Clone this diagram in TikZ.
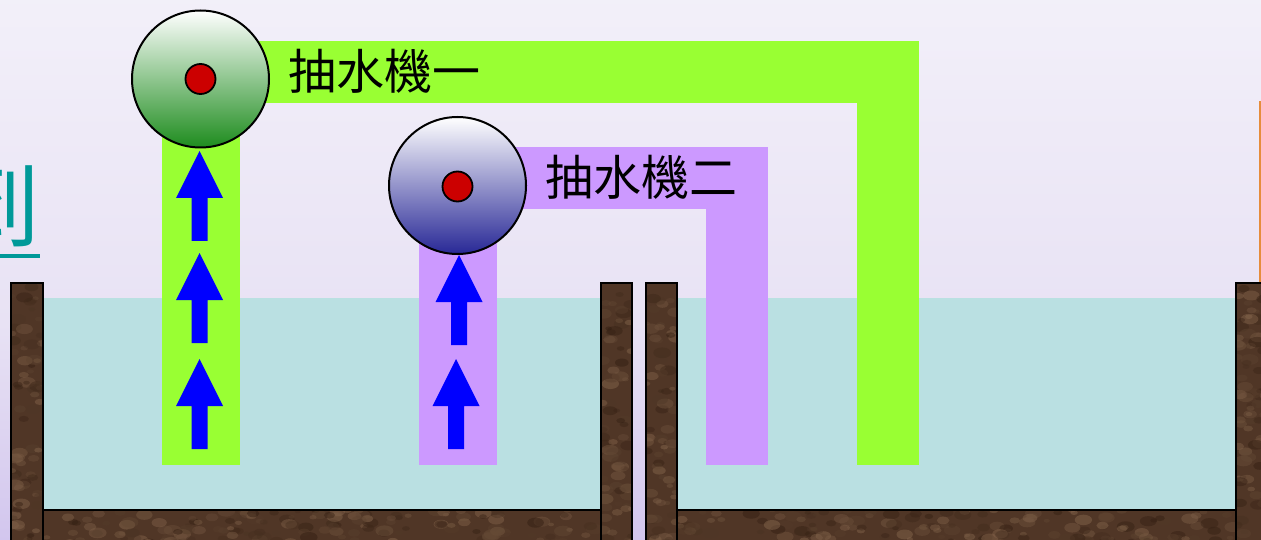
\documentclass[tikz,border=0pt]{standalone}
\usepackage{fontspec}
\newfontfamily\cjk{Noto Sans CJK TC}
\usetikzlibrary{calc}

\definecolor{bgtop}{RGB}{251,251,254}
\definecolor{bgmid}{RGB}{232,226,244}
\definecolor{bgbot}{RGB}{183,163,230}
\definecolor{water}{RGB}{186,224,226}
\definecolor{pipegreen}{RGB}{153,255,51}
\definecolor{pipepurple}{RGB}{204,153,255}
\definecolor{pumpgreen}{RGB}{30,140,30}
\definecolor{pumpblue}{RGB}{40,40,150}
\definecolor{hubred}{RGB}{204,0,0}
\definecolor{woodbase}{RGB}{80,54,38}
\definecolor{woodlight}{RGB}{138,106,80}
\definecolor{wooddark}{RGB}{48,28,16}
\definecolor{linkteal}{RGB}{0,153,153}
\definecolor{edgeorange}{RGB}{230,140,60}

\pgfdeclareverticalshading{skyshade}{100bp}{%
  color(0bp)=(bgbot); color(45bp)=(bgmid); color(100bp)=(bgtop)}

\tikzset{
  pipeG/.style={fill=pipegreen, draw=none},
  pipeP/.style={fill=pipepurple, draw=none},
  pumpbody/.style={circle, draw=black, line width=2pt, minimum size=137pt,
    inner sep=0pt, top color=white, middle color=#1!28!white, bottom color=#1},
  hub/.style={circle, draw=black, line width=1.8pt, fill=hubred,
    minimum size=30pt, inner sep=0pt},
  pumplabel/.style={font=\cjk\fontsize{48}{52}\selectfont, text=black, inner sep=0pt},
  uparrow/.pic={\fill[blue] (0,0) -- (23.5,47) -- (8,47) -- (8,90)
      -- (-8,90) -- (-8,47) -- (-23.5,47) -- cycle;}
}

% a wooden block with a mottled texture and a black outline
\newcommand\woodblock[4]{%
  \begin{scope}
    \clip (#1,#2) rectangle (#3,#4);
    \fill[woodbase] (#1,#2) rectangle (#3,#4);
    \pgfmathtruncatemacro\nblot{((#3)-(#1))/8*((#4)-(#2))/14}
    \foreach \k in {1,...,\nblot}{%
      \pgfmathsetmacro\bx{#1+rnd*((#3)-(#1))}%
      \pgfmathsetmacro\by{#2+rnd*((#4)-(#2))}%
      \pgfmathsetmacro\br{3+rnd*6}%
      \pgfmathtruncatemacro\mix{rnd*100}%
      \fill[woodlight!\mix!wooddark, opacity=0.45] (\bx,\by) ellipse ({\br} and {\br*0.6});
    }
  \end{scope}
  \draw[black, line width=1.5pt] (#1,#2) rectangle (#3,#4);
}

\begin{document}
\begin{tikzpicture}[x=1pt, y=-1pt]
  \pgfmathsetseed{7}
  \useasboundingbox (0,0) rectangle (1261,540);

  % background
  \fill[shading=skyshade] (0,0) rectangle (1261,540);

  % edge of a shape at the right border
  \draw[edgeorange, line width=2pt] (1260,101) -- (1260,283);

  % partly visible link character at the left border
  \node[font=\cjk\fontsize{92}{96}\selectfont, text=linkteal, anchor=east, inner sep=0pt]
    (linkchar) at (41,206) {到};
  \fill[linkteal] (0,254) rectangle (40,258);

  % water in the two tanks
  \fill[water] (43,298) rectangle (601,510);
  \fill[water] (677,298) rectangle (1236,510);

  % pipe of pump one (green)
  \fill[pipeG] (162,100) rectangle (240,465);
  \fill[pipeG] (200,41) rectangle (919,103);
  \fill[pipeG] (857,41) rectangle (919,465);

  % pipe of pump two (purple)
  \fill[pipeP] (419,200) rectangle (497,465);
  \fill[pipeP] (457,147) rectangle (768,209);
  \fill[pipeP] (706,147) rectangle (768,465);

  % tank walls and floors
  \woodblock{11}{283}{43}{548}
  \woodblock{43}{510}{601}{548}
  \woodblock{601}{283}{632}{548}
  \woodblock{646}{283}{677}{548}
  \woodblock{677}{510}{1236}{548}
  \woodblock{1236}{283}{1270}{548}

  % pumps
  \node[pumpbody=pumpgreen] (pumpA) at (200.5,79) {};
  \node[hub] (hubA) at (pumpA.center) {};
  \node[pumpbody=pumpblue] (pumpB) at (457.5,185.5) {};
  \node[hub] (hubB) at ($(pumpB.center)+(0,1)$) {};

  % labels
  \node[pumplabel] (labelA) at (384,71) {抽水機一};
  \node[pumplabel] (labelB) at (641,177) {抽水機二};

  % flow arrows
  \pic at (199.5,151) {uparrow};
  \pic at (199.5,253) {uparrow};
  \pic at (199.5,359) {uparrow};
  \pic at (459,255) {uparrow};
  \pic at (456,359) {uparrow};
\end{tikzpicture}
\end{document}
